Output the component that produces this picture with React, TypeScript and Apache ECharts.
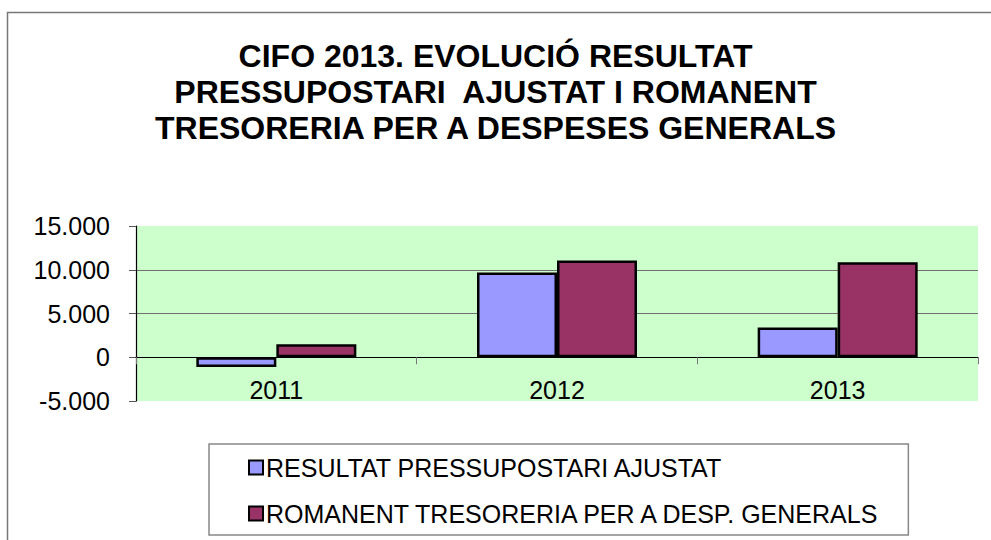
import React, { useEffect, useRef } from "react";
import * as echarts from "echarts";

const titleLines = [
  "CIFO 2013. EVOLUCIÓ RESULTAT",
  "PRESSUPOSTARI  AJUSTAT I ROMANENT",
  "TRESORERIA PER A DESPESES GENERALS",
];
const categories = ["2011", "2012", "2013"];
const seriesNames = [
  "RESULTAT PRESSUPOSTARI AJUSTAT",
  "ROMANENT TRESORERIA PER A DESP. GENERALS",
];
const resultatValues = [-1100, 9700, 3400];
const romanentValues = [1500, 11050, 10870];
const yMin = -5000;
const yMax = 15000;
const yInterval = 5000;

const FONT = "'Liberation Sans', Arial, sans-serif";

function fmt(v: number): string {
  const s = Math.abs(v).toString().replace(/\B(?=(\d{3})+(?!\d))/g, ".");
  return (v < 0 ? "-" : "") + s;
}

export default function App() {
  const ref = useRef<HTMLDivElement>(null);
  useEffect(() => {
    if (!ref.current) return;
    const chart = echarts.init(ref.current, null, { renderer: "svg" });
    chart.setOption({
      animation: false,
      backgroundColor: "#ffffff",
      textStyle: { fontFamily: FONT },
      title: {
        text: titleLines.join("\n"),
        left: "center",
        top: 38,
        padding: 0,
        textStyle: {
          fontFamily: FONT,
          fontSize: 32,
          fontWeight: "bold",
          lineHeight: 36,
          color: "#000",
        },
      },
      graphic: [
        {
          type: "rect",
          shape: { x: 7.5, y: 12.5, width: 1200, height: 800 },
          style: { fill: "none", stroke: "#777", lineWidth: 1.5 },
          silent: true,
          z: 100,
        },
      ],
      legend: {
        orient: "vertical",
        left: 209,
        top: 444,
        padding: [11, 26, 9, 39],
        itemGap: 21,
        itemWidth: 14,
        itemHeight: 14,
        icon: "rect",
        borderColor: "#888",
        borderWidth: 1.5,
        backgroundColor: "#fff",
        itemStyle: { borderColor: "#000", borderWidth: 2 },
        textStyle: { fontFamily: FONT, fontSize: 25, lineHeight: 25, color: "#000", padding: [0, 0, 0, -2] },
        data: seriesNames,
      },
      grid: {
        left: 136,
        right: 13,
        top: 226,
        bottom: 139,
        show: true,
        backgroundColor: "#CCFFCC",
        borderWidth: 0,
        containLabel: false,
      },
      xAxis: {
        type: "category",
        data: categories,
        z: 10,
        axisLine: { onZero: true, lineStyle: { color: "#000", width: 1.2 } },
        axisTick: { show: true, length: 7, lineStyle: { color: "#777" } },
        axisLabel: { fontFamily: FONT, fontSize: 25, color: "#000", margin: -24 },
        splitLine: { show: false },
      },
      yAxis: {
        type: "value",
        min: yMin,
        max: yMax,
        interval: yInterval,
        axisLine: { show: true, lineStyle: { color: "#000", width: 1.2 } },
        axisTick: { show: true, length: 7, lineStyle: { color: "#555" } },
        axisLabel: {
          fontFamily: FONT,
          fontSize: 25,
          color: "#000",
          margin: 26,
          formatter: (v: number) => fmt(v),
        },
        splitLine: {
          show: true,
          showMinLine: false,
          showMaxLine: false,
          lineStyle: { color: "#6f6f6f", width: 1 },
        },
      },
      series: [
        {
          name: seriesNames[0],
          type: "bar",
          data: resultatValues,
          barWidth: 80,
          barGap: "0%",
          itemStyle: { color: "#9999FF", borderColor: "#000", borderWidth: 2.5 },
        },
        {
          name: seriesNames[1],
          type: "bar",
          data: romanentValues,
          barWidth: 80,
          barGap: "0%",
          itemStyle: { color: "#993366", borderColor: "#000", borderWidth: 2.5 },
        },
      ],
    });
    return () => chart.dispose();
  }, []);
  return (
    <div
      ref={ref}
      style={{ position: "absolute", left: 0, top: 0, width: 991, height: 540 }}
    />
  );
}
